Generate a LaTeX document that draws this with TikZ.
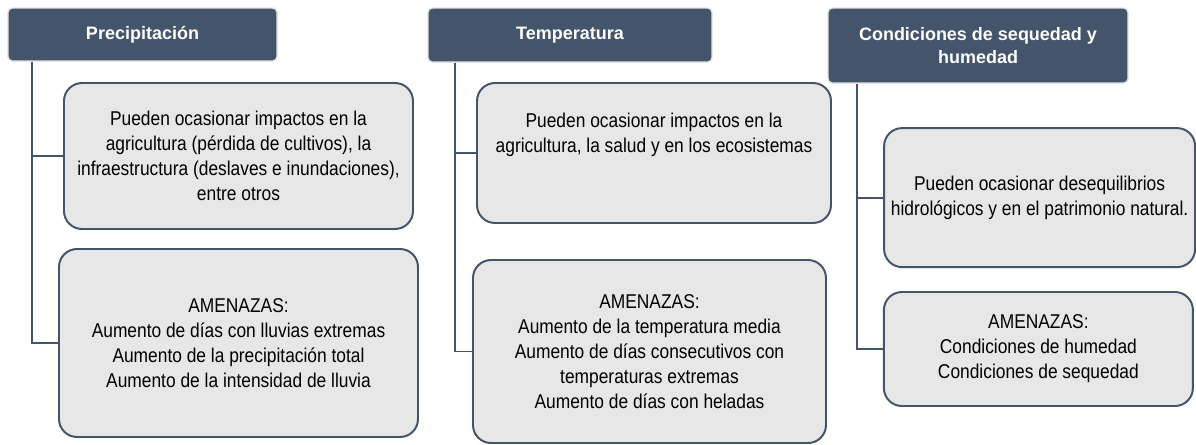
\documentclass[tikz,border=0pt]{standalone}
\usepackage{fontspec}
\setmainfont{Liberation Sans}
\newfontfamily\narrowfont{Liberation Sans}[FakeStretch=0.87]
\usepackage{tikz}
\usetikzlibrary{positioning, calc}
\definecolor{head-fill}{HTML}{44546A}
\definecolor{head-border}{HTML}{E4E4E4}
\definecolor{box-fill}{HTML}{E7E7E7}
\definecolor{box-border}{HTML}{44546A}
\definecolor{tree-slate}{HTML}{44546A}
\tikzset{
  head-node/.style={
    draw=head-border, fill=head-fill, rounded corners=3pt, line width=1pt,
    inner sep=2pt, align=center, text=white,
    font=\fontsize{12.8}{16.3}\selectfont\bfseries
  },
  info-box/.style={
    draw=box-border, fill=box-fill, rounded corners=0.45cm, line width=1.4pt,
    inner sep=2pt, align=center, text=black,
    font=\narrowfont\fontsize{14.2}{17.8}\selectfont
  },
  tree-edge/.style={line width=1.4pt, draw=tree-slate}
}
\begin{document}
\begin{tikzpicture}
  \useasboundingbox (0,0) rectangle (29.9,-11.1);

  % Encabezados de cada variable
  \node[head-node, minimum width=6.725cm, minimum height=1.325cm] (prec) at (3.5625,-0.8625) {Precipitación};
  \node[head-node, minimum width=7.1cm, minimum height=1.35cm] (temp) at (14.25,-0.875) {Temperatura};
  \node[head-node, minimum width=7.5cm, minimum height=1.875cm] (seq) at (24.45,-1.1375) {Condiciones de sequedad y\\humedad};

  % Cajas de impactos
  \node[info-box, minimum width=8.725cm, minimum height=3.65cm] (prec-imp) at (5.9625,-3.9) {
    Pueden ocasionar impactos en la\\
    agricultura (pérdida de cultivos), la\\
    infraestructura (deslaves e inundaciones),\\
    entre otros
  };
  \node[info-box, minimum width=8.85cm, minimum height=3.5cm] (temp-imp) at (16.35,-3.825) {
    Pueden ocasionar impactos en la\\
    agricultura, la salud y en los ecosistemas\\[0.4cm]
  };
  \node[info-box, minimum width=7.775cm, minimum height=3.475cm] (seq-imp) at (25.99,-4.94) {
    Pueden ocasionar desequilibrios\\
    hidrológicos y en el patrimonio natural.
  };

  % Cajas de amenazas
  \node[info-box, minimum width=8.975cm, minimum height=4.7cm] (prec-am) at (5.9625,-8.575) {
    AMENAZAS:\\
    Aumento de días con lluvias extremas\\
    Aumento de la precipitación total\\
    Aumento de la intensidad de lluvia
  };
  \node[info-box, minimum width=8.825cm, minimum height=4.575cm] (temp-am) at (16.2375,-8.7875) {
    AMENAZAS:\\
    Aumento de la temperatura media\\
    Aumento de días consecutivos con\\
    temperaturas extremas\\
    Aumento de días con heladas
  };
  \node[info-box, minimum width=7.725cm, minimum height=2.85cm] (seq-am) at (25.96,-8.725) {
    AMENAZAS:\\
    Condiciones de humedad\\
    Condiciones de sequedad
  };

  % Conectores en árbol
  \draw[tree-edge] ([xshift=0.625cm]prec.south west) |- (prec-imp.west);
  \draw[tree-edge] ([xshift=0.625cm]prec.south west) |- (prec-am.west);
  \draw[tree-edge] ([xshift=0.7cm]temp.south west) |- (temp-imp.west);
  \draw[tree-edge] ([xshift=0.7cm]temp.south west) |- (temp-am.west);
  \draw[tree-edge] ([xshift=0.75cm]seq.south west) |- (seq-imp.west);
  \draw[tree-edge] ([xshift=0.75cm]seq.south west) |- (seq-am.west);
\end{tikzpicture}
\end{document}
